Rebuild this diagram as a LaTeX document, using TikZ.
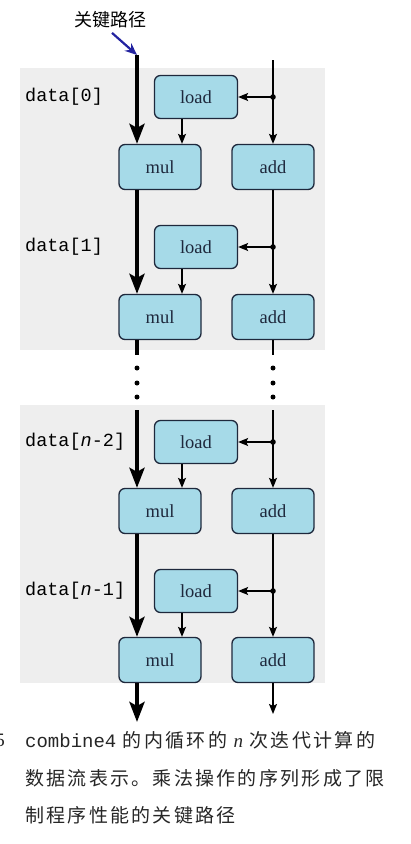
\documentclass[tikz,border=0pt]{standalone}
\usepackage{fontspec}
\setmainfont{Liberation Serif}
\setmonofont{Liberation Mono}
\newfontfamily\cjk{Noto Sans CJK SC}
\newfontfamily\cjkcap{Noto Sans CJK SC}[LetterSpace=12]
\usetikzlibrary{arrows.meta}

\definecolor{boxfill}{RGB}{166,218,232}
\definecolor{boxline}{RGB}{30,40,60}
\definecolor{pathblue}{RGB}{35,35,160}
\definecolor{bggray}{RGB}{238,238,238}

\tikzset{
  opbox/.style={draw=boxline, line width=1.3pt, fill=boxfill, rounded corners=6pt,
    minimum width=82pt, minimum height=45pt, inner sep=0pt,
    font=\fontsize{18.5}{18.5}\selectfont, text=boxline},
  loadbox/.style={opbox, minimum width=83pt, minimum height=43pt},
  crit/.style={line width=4.5pt, -{Stealth[length=20pt,width=15pt,inset=4pt]}},
  flow/.style={line width=1.4pt, -{Stealth[length=10pt,width=8pt,inset=2pt]}},
  datalabel/.style={anchor=west, inner sep=0pt, font=\ttfamily\fontsize{18.5}{18.5}\selectfont},
  captext/.style={anchor=west, inner sep=0pt, text=black!85, font=\cjkcap\fontsize{19}{19}\selectfont},
}

\begin{document}
\begin{tikzpicture}[x=1pt, y=-1pt]
\useasboundingbox (0,0) rectangle (411,844);

% column positions
\def\xl{137}
\def\xr{273}
\def\xm{160}
\def\xload{196}

% background bands
\fill[bggray] (20,68) rectangle (325,350);
\fill[bggray] (20,405) rectangle (325,683);

% title
\node[font=\cjk\fontsize{18}{18}\selectfont] (title) at (110,20) {关键路径};

% iterations
\foreach \i/\yl/\ym/\txt in {1/97/167/data[0], 2/247/317/data[1],
    3/442/511/data[\textit{n}-2], 4/591/660/data[\textit{n}-1]} {
  \node[loadbox] (load\i) at (\xload,\yl) {load};
  \node[opbox] (mul\i) at (\xm,\ym) {mul};
  \node[opbox] (add\i) at (\xr,\ym) {add};
  \node[datalabel] (data\i) at (25,\yl) {\txt};
  \coordinate (j\i) at (\xr,\yl);
  \draw[flow] (j\i) -- (load\i.east);
  \fill (j\i) circle (2.8pt);
  \draw[flow] ([xshift=-14pt]load\i.south) -- ([xshift=-14pt]load\i.south |- mul\i.north);
}

% critical path and add chain
\coordinate (critTop) at (\xl,55);
\coordinate (addTop) at (\xr,60);
\draw[pathblue, line width=2.2pt, -{Stealth[length=12pt,width=10pt]}] ([xshift=2pt,yshift=-1pt]title.south) -- (critTop);

\draw[crit] (critTop) -- (critTop |- mul1.north);
\draw[flow] (addTop) -- (add1.north);
\draw[crit] (critTop |- mul1.south) -- (critTop |- mul2.north);
\draw[flow] (add1.south) -- (add2.north);

% elided iterations
\coordinate (gapA) at (\xl,355);
\coordinate (gapB) at (\xl,410);
\draw[line width=4.5pt] (critTop |- mul2.south) -- (gapA);
\draw[line width=1.4pt] (add2.south) -- (gapA -| add2);
\foreach \y in {368,383,397} {
  \fill (\xl,\y) circle (2.5pt);
  \fill (\xr,\y) circle (2.5pt);
}
\draw[crit] (gapB) -- (gapB |- mul3.north);
\draw[flow] (gapB -| add3) -- (add3.north);

\draw[crit] (critTop |- mul3.south) -- (critTop |- mul4.north);
\draw[flow] (add3.south) -- (add4.north);

\coordinate (critEnd) at (\xl,722);
\coordinate (addEnd) at (\xr,714);
\draw[crit] (critTop |- mul4.south) -- (critEnd);
\draw[flow] (add4.south) -- (addEnd);

% caption
\node[anchor=east, inner sep=0pt, text=black!85, font=\fontsize{19}{19}\selectfont] (fignum) at (5,740) {5};
\node[captext] (cap1) at (25,740) {{\ttfamily combine4} 的内循环的 {\rmfamily\itshape n} 次迭代计算的};
\node[captext] (cap2) at (25,778) {数据流表示。乘法操作的序列形成了限};
\node[captext] (cap3) at (25,815) {制程序性能的关键路径};

\end{tikzpicture}
\end{document}
